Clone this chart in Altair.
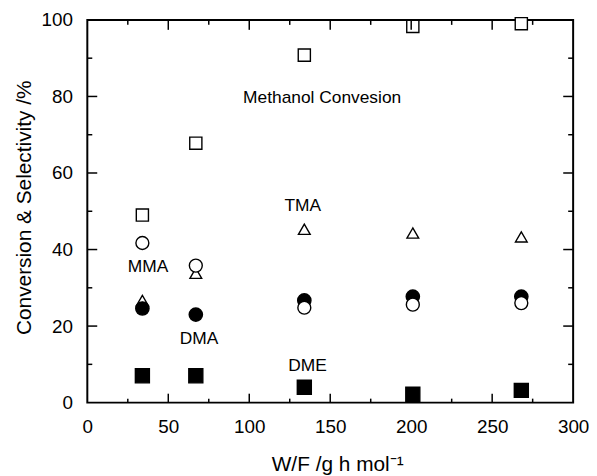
import altair as alt
import pandas as pd

# data
wf = [34, 67, 134, 201, 268]
conversion = [49.0, 67.8, 90.8, 98.3, 99.0]
tma = [26.7, 33.8, 45.3, 44.3, 43.3]
mma = [41.7, 35.8, 24.8, 25.6, 26.0]
dma = [24.6, 23.0, 26.7, 27.7, 27.7]
dme = [7.0, 7.0, 4.0, 2.2, 3.2]

label_text = ["Methanol Convesion", "TMA", "MMA", "DMA", "DME"]
label_x = [145, 133, 37.5, 69, 136]
label_y = [79.5, 51.3, 35.5, 16.6, 9.5]

x_major = [50, 100, 150, 200, 250]
x_minor = [25, 75, 125, 175, 225, 275]
y_major = [20, 40, 60, 80]
y_minor = [10, 30, 50, 70, 90]
x_labels = [0, 50, 100, 150, 200, 250, 300]
y_labels = [0, 20, 40, 60, 80, 100]

W, H = 490, 386
FONT = "Liberation Sans"

xs = alt.Scale(domain=[0, 300], nice=False, zero=False)
ys = alt.Scale(domain=[0, 100], nice=False, zero=False)

x_axis = alt.Axis(values=x_labels, ticks=False, domain=False, grid=False,
                  labelFontSize=19, labelPadding=15, labelColor="black",
                  labelFlush=False,
                  labelFont=FONT, title="W/F /g h mol⁻¹", titleFont=FONT,
                  titleFontSize=21, titleFontWeight="normal", titleColor="black",
                  titlePadding=17, titleX=252)
y_axis = alt.Axis(values=y_labels, ticks=False, domain=False, grid=False,
                  labelFontSize=19, labelPadding=15, labelColor="black",
                  labelFlush=False,
                  labelFont=FONT, title="Conversion & Selectivity /%", titleFont=FONT,
                  titleFontSize=21, titleFontWeight="normal", titleColor="black",
                  titlePadding=7, titleY=189)


def X(field):
    return alt.X(field, scale=xs, axis=x_axis)


def Y(field):
    return alt.Y(field, scale=ys, axis=y_axis)


def series(vals, shape, filled, size):
    df = pd.DataFrame({"wf": wf, "v": vals})
    return alt.Chart(df).mark_point(
        shape=shape, size=size, filled=True,
        fill="black" if filled else "white",
        stroke="black", strokeWidth=1.4, opacity=1,
    ).encode(x=X("wf:Q"), y=Y("v:Q"))


def xticks(vals, length, top):
    df = pd.DataFrame({"t": vals})
    y0 = 0 if top else H
    y1 = length if top else H - length
    return alt.Chart(df).mark_rule(color="black", strokeWidth=1.5).encode(
        x=X("t:Q"), y=alt.value(y0), y2=alt.value(y1))


def yticks(vals, length, right):
    df = pd.DataFrame({"t": vals})
    x0 = W if right else 0
    x1 = W - length if right else length
    return alt.Chart(df).mark_rule(color="black", strokeWidth=1.5).encode(
        y=Y("t:Q"), x=alt.value(x0), x2=alt.value(x1))


labels_df = pd.DataFrame({"x": label_x, "y": label_y, "t": label_text})
labels = alt.Chart(labels_df).mark_text(
    font=FONT, fontSize=17.5, color="black", align="center", baseline="middle"
).encode(x=X("x:Q"), y=Y("y:Q"), text="t:N")

layers = [
    series(conversion, "square", False, 150),
    series(dme, "square", True, 200),
    series(tma, "triangle-up", False, 140),
    series(dma, "circle", True, 180),
    series(mma, "circle", False, 170),
    labels,
    xticks(x_major, 9, False), xticks(x_minor, 4, False),
    xticks(x_major, 10, True), xticks(x_minor, 5, True),
    yticks(y_major, 10, False), yticks(y_minor, 5, False),
    yticks(y_major, 10, True), yticks(y_minor, 5, True),
]

chart = alt.layer(*layers).properties(
    width=W, height=H,
    background="white",
    autosize=alt.AutoSizeParams(type="none"),
    padding={"left": 80, "top": 10, "right": 16, "bottom": 72},
).configure_view(stroke="black", strokeWidth=2)

chart.save("out.html", embed_options={"renderer": "svg", "actions": False})
